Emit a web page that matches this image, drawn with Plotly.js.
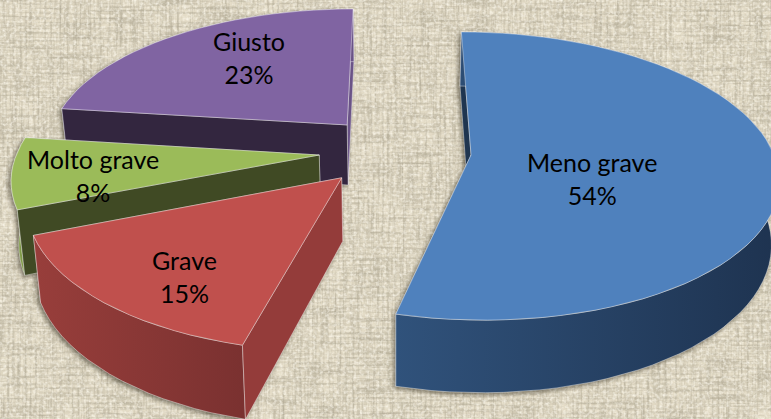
<!DOCTYPE html>
<html>
<head>
<meta charset="utf-8">
<script src="https://cdn.plot.ly/plotly-3.0.1.min.js"></script>
<style>
html,body{margin:0;padding:0;width:771px;height:419px;overflow:hidden}
body{background-color:#e4dcc7}
#texture{position:absolute;left:0;top:0;width:771px;height:419px}
#chart{position:absolute;left:0;top:0;width:771px;height:419px}
#chart .scatterlayer{filter:drop-shadow(-2px 2px 2px rgba(40,35,20,.55))}
</style>
</head>
<body>
<svg id="texture" xmlns="http://www.w3.org/2000/svg" width="771" height="419">
  <defs>
    <filter id="hDark" x="0" y="0" width="100%" height="100%">
      <feTurbulence type="fractalNoise" baseFrequency="0.02 0.4" numOctaves="2" seed="4"/>
      <feColorMatrix type="matrix" values="0 0 0 0 0.45  0 0 0 0 0.41  0 0 0 0 0.31  1.7 0 0 0 -0.66"/>
      <feGaussianBlur stdDeviation="0.5"/>
    </filter>
    <filter id="vDark" x="0" y="0" width="100%" height="100%">
      <feTurbulence type="fractalNoise" baseFrequency="0.4 0.02" numOctaves="2" seed="9"/>
      <feColorMatrix type="matrix" values="0 0 0 0 0.45  0 0 0 0 0.41  0 0 0 0 0.31  1.7 0 0 0 -0.66"/>
      <feGaussianBlur stdDeviation="0.5"/>
    </filter>
    <filter id="light" x="0" y="0" width="100%" height="100%">
      <feTurbulence type="fractalNoise" baseFrequency="0.3 0.34" numOctaves="2" seed="17"/>
      <feColorMatrix type="matrix" values="0 0 0 0 1  0 0 0 0 0.97  0 0 0 0 0.88  1.6 0 0 0 -0.66"/>
      <feGaussianBlur stdDeviation="0.5"/>
    </filter>
  </defs>
  <rect width="771" height="419" filter="url(#hDark)"/>
  <rect width="771" height="419" filter="url(#vDark)"/>
  <rect width="771" height="419" filter="url(#light)"/>
</svg>
<div id="chart"></div>
<script>
const categories = ["Meno grave", "Grave", "Molto grave", "Giusto"];
const values = [54, 15, 8, 23];
const topColors = ["#4f81bd", "#c0504d", "#9bbb59", "#8064a2"];
const cutColors = ["#1f3550", "#943c3a", "#404a24", "#33263f"];
const rimGradients = [["#30527b", "#1e3350"], ["#983e3b", "#7a3130"], ["#7f9a48", "#7f9a48"], ["#6a5387", "#6a5387"]];
const explodeU = [0.251, -0.172, -0.25, -0.163];
const explodeV = [0, -0.158, 0, 0.22];
const labelX = [592, 184, 93, 249];
const labelY = [179, 277, 176, 58];
const drawOrder = [3, 2, 1, 0];

// perspective of the tilted disc
const VX = 395, HY = -811, SCALE_Y = 966, SCALE_X = 303, TILT = 0.146, DEPTH = 62, SHRINK = 0.98;
function project(u, v, low) {
  const w = 1 + TILT * v;
  let x = VX + SCALE_X * u / w;
  let y = HY + SCALE_Y / w;
  if (low) { x = VX + (x - VX) * SHRINK; y += DEPTH / w; }
  return [x, y];
}
const total = values.reduce((a, b) => a + b, 0);
const traces = [];
function poly(points, color, extra) {
  traces.push(Object.assign({
    type: "scatter", mode: "lines", fill: "toself", fillcolor: color,
    x: points.map(p => p[0]), y: points.map(p => p[1]),
    line: {color: "rgba(255,255,255,0.5)", width: 0.8},
    hoverinfo: "skip", showlegend: false
  }, extra || {}));
}
const bounds = [];
let cum = 0;
values.forEach(v => { bounds.push([cum / total * 360, (cum + v) / total * 360]); cum += v; });

drawOrder.forEach(i => {
  const [a0, a1] = bounds[i];
  const cu = explodeU[i], cv = explodeV[i];
  const ground = deg => [cu + Math.sin(deg * Math.PI / 180), cv + Math.cos(deg * Math.PI / 180)];
  const steps = Math.max(8, Math.round((a1 - a0) / 3));
  const rim = [];
  for (let k = 0; k <= steps; k++) rim.push(ground(a0 + (a1 - a0) * k / steps));
  const rimTop = rim.map(g => project(g[0], g[1], false));
  const rimLow = rim.map(g => project(g[0], g[1], true));
  const apexTop = project(cu, cv, false), apexLow = project(cu, cv, true);
  const cutStart = [apexTop, rimTop[0], rimLow[0], apexLow, apexTop];
  const cutEnd = [apexTop, rimTop[steps], rimLow[steps], apexLow, apexTop];
  const startFront = Math.cos((a0 - 90) * Math.PI / 180) < -0.01;
  const endFront = Math.cos((a1 + 90) * Math.PI / 180) < -0.01;
  if (!startFront) poly(cutStart, i === 3 ? rimGradients[3][0] : cutColors[i]);
  if (!endFront) poly(cutEnd, i === 3 ? rimGradients[3][0] : cutColors[i]);
  const wall = rimTop.concat(rimLow.slice().reverse());
  wall.push(wall[0]);
  poly(wall, rimGradients[i][0], {
    fillgradient: {type: "horizontal", colorscale: [[0, rimGradients[i][0]], [1, rimGradients[i][1]]]}
  });
  if (startFront) poly(cutStart, cutColors[i]);
  if (endFront) poly(cutEnd, cutColors[i]);
  poly([apexTop].concat(rimTop, [apexTop]), topColors[i]);
});

const annotations = categories.map((c, i) => ({
  x: labelX[i], y: labelY[i] - 0.5, xref: "x", yref: "y", showarrow: false,
  text: c + "<br>" + values[i] + "%", align: "center",
  font: {family: "Lato, 'Open Sans', sans-serif", size: 25, color: "#000"}
}));

Plotly.newPlot("chart", traces, {
  width: 771, height: 419,
  margin: {l: 0, r: 0, t: 0, b: 0},
  paper_bgcolor: "rgba(0,0,0,0)", plot_bgcolor: "rgba(0,0,0,0)",
  xaxis: {range: [0, 771], visible: false, fixedrange: true},
  yaxis: {range: [419, 0], visible: false, fixedrange: true},
  showlegend: false,
  annotations
}, {displayModeBar: false, staticPlot: true});
</script>
</body>
</html>
